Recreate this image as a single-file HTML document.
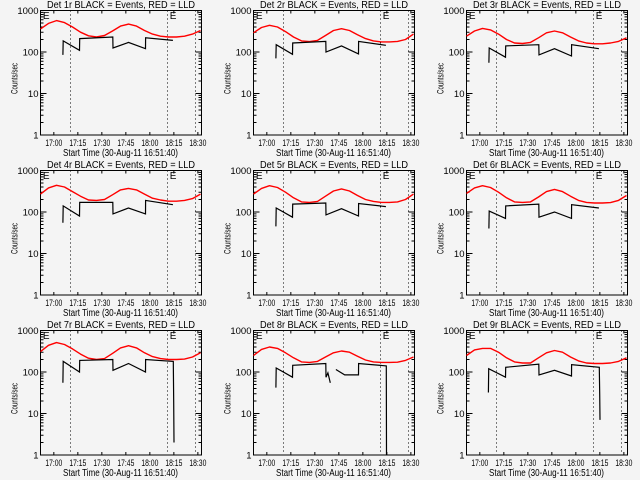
<!DOCTYPE html>
<html><head><meta charset="utf-8"><style>
html,body{margin:0;padding:0;background:#f4f4f4;}
svg{display:block;}
text{font-family:"Liberation Sans",sans-serif;fill:#000;}
</style></head><body>
<svg id="fig" width="640" height="480" viewBox="0 0 640 480" xmlns="http://www.w3.org/2000/svg">
<rect x="0" y="0" width="640" height="480" fill="#f4f4f4"/>
</svg>
<script>
// Shared data
const detNames = ["1r","2r","3r","4r","5r","6r","7r","8r","9r"];
const redTimes = [0,5,10,15,20,25,30,35,40,45,50,55,60,65,70,75,80,85,90,95,100];
const red1 = [360,490,570,510,400,300,245,230,250,320,420,470,420,330,270,240,230,230,240,270,330];
const red2 = [290,390,440,400,310,230,185,178,190,250,330,365,330,260,210,185,175,175,180,200,270];
const red3 = [240,320,370,340,270,200,165,160,170,220,290,320,290,230,185,165,158,158,165,180,220];
const red4 = [270,380,440,400,310,240,195,190,200,260,340,370,340,270,215,195,182,182,190,210,270];
const red5 = [270,370,430,390,300,220,175,170,180,240,320,360,320,250,200,180,170,170,175,200,270];
const red6 = [280,380,430,390,300,220,175,170,175,230,310,350,310,240,190,170,165,165,168,190,250];
const red7 = [310,440,510,460,360,270,215,200,210,280,380,430,380,290,235,210,200,200,205,230,290];
const red8 = [250,350,400,370,290,220,175,170,180,230,290,320,300,240,195,175,170,170,172,190,230];
const red9 = [250,340,370,370,300,220,175,165,165,220,290,330,300,230,185,165,160,160,165,180,220];
const redSeries = [red1,red2,red3,red4,red5,red6,red7,red8,red9];

const blackTimesStd = [14,14.2,24.4,24.5,45.2,45.3,55,65.6,65.7,82.7];
const black1 = [85,185,110,210,230,125,170,120,220,190];
const black2 = [70,150,88,165,180,100,140,90,180,145];
const black3 = [55,125,75,140,150,85,120,80,150,120];
const black4 = [55,140,80,170,170,90,125,90,190,150];
const black5 = [45,125,75,155,165,85,120,80,160,135];
const black6 = [40,105,70,140,155,75,100,70,150,125];
const black7Times = [14,14.2,24.4,24.5,45.2,45.3,55,65.6,65.7,83,83.2,83.4];
const black7 = [55,180,100,190,200,110,160,100,200,180,18,2];
const black8Times = [14,14.2,24.4,24.5,45.2,45.3,46.5,48,48.1,51.5,57,65.6,65.7,83,83.1];
const black8 = [42,125,75,145,160,75,95,55,null,115,85,85,160,140,1];
const black9Times = [13.7,13.9,24.4,24.5,45.2,45.3,55,65.6,65.7,83,83.2,83.4];
const black9 = [32,120,75,130,155,85,110,80,150,130,30,7];
const blackTimes = [blackTimesStd,blackTimesStd,blackTimesStd,blackTimesStd,blackTimesStd,blackTimesStd,black7Times,black8Times,black9Times];
const blackSeries = [black1,black2,black3,black4,black5,black6,black7,black8,black9];

const dottedTimes = [18.3,78.75,96.5];
const eMarkTimes = [1.5,80.8];
const xTickTimes = [8.33,23.33,38.33,53.33,68.33,83.33,98.33];
const xTickLabels = ["17:00","17:15","17:30","17:45","18:00","18:15","18:30"];
const yTickValues = [1,10,100,1000];
const yTickLabels = ["1","10","100","1000"];

const NS = "http://www.w3.org/2000/svg";
const svg = document.getElementById('fig');
const colLeft = [40.5,253.5,466.5];
const rowTop = [10.5,170.5,330.5];
const W = 161, H = 124.5;
const XMAX = 100.6;

function mk(tag, attrs, parent){
  const e = document.createElementNS(NS, tag);
  for (const k in attrs) e.setAttribute(k, attrs[k]);
  parent.appendChild(e);
  return e;
}

for (let p = 0; p < 9; p++) {
  const L = colLeft[p % 3], T = rowTop[Math.floor(p / 3)];
  const xs = t => L + t / XMAX * W;
  const ys = v => T + H - Math.log10(v) / 3 * H;
  const g = mk('g', {}, svg);
  
  

  const title = mk('text', {x: L + W/2, y: T - 2.5, 'font-size': 10.5, 'text-anchor': 'middle', textLength: 148, lengthAdjust: 'spacingAndGlyphs'}, g);
  title.textContent = 'Det ' + detNames[p] + ' BLACK = Events, RED = LLD';
  
  

  const box = mk('rect', {x: L, y: T, width: W, height: H, fill: 'none', stroke: '#000', 'stroke-width': 1}, g);
  
  

  for (let i = 0; i < yTickValues.length; i++) {
    const y = ys(yTickValues[i]);
    const tk = mk('path', {d: `M${L},${y}h6M${L+W},${y}h-6`, stroke: '#000', 'stroke-width': 1}, g);
    
    
    const lb = mk('text', {x: L - 2, y: y + 3.5, 'font-size': 9.5, 'text-anchor': 'end'}, g);
    lb.textContent = yTickLabels[i];
    
    
    if (i < yTickValues.length - 1) {
      for (let m = 2; m <= 9; m++) {
        const ym = ys(yTickValues[i] * m);
        const mt = mk('path', {d: `M${L},${ym}h3M${L+W},${ym}h-3`, stroke: '#000', 'stroke-width': 1}, g);
        
        
      }
    }
  }
  for (let i = 0; i < xTickTimes.length; i++) {
    const x = xs(xTickTimes[i]);
    const tk = mk('path', {d: `M${x},${T+H}v-3M${x},${T}v3`, stroke: '#000', 'stroke-width': 1}, g);
    
    
    const lb = mk('text', {x: x, y: T + H + 11, 'font-size': 9.5, 'text-anchor': 'middle', textLength: 17, lengthAdjust: 'spacingAndGlyphs'}, g);
    lb.textContent = xTickLabels[i];
    
    
  }
  const xl = mk('text', {x: L + W/2 - 0.5, y: T + H + 21, 'font-size': 10, 'text-anchor': 'middle', textLength: 115, lengthAdjust: 'spacingAndGlyphs'}, g);
  xl.textContent = 'Start Time (30-Aug-11 16:51:40)';
  
  
  const yl = mk('text', {x: 0, y: 0, 'font-size': 9.5, 'text-anchor': 'middle', transform: `translate(${L-23},${T+68}) rotate(-90)`, textLength: 31, lengthAdjust: 'spacingAndGlyphs'}, g);
  yl.textContent = 'Counts/sec';
  
  

  for (const t of dottedTimes) {
    const x = Math.round(xs(t)) + 0.5;
    const dl = mk('line', {x1: x, y1: T, x2: x, y2: T + H, stroke: '#000', 'stroke-width': 1, 'stroke-dasharray': '1,3'}, g);
    
    
  }
  for (const t of eMarkTimes) {
    const em = mk('text', {x: xs(t), y: T + 8.5, 'font-size': 10}, g);
    em.textContent = 'E';
    
    
  }

  const rv = redSeries[p];
  let rd = '';
  for (let i = 0; i < redTimes.length; i++) rd += (i ? 'L' : 'M') + xs(redTimes[i]).toFixed(1) + ',' + ys(rv[i]).toFixed(1);
  const rl = mk('path', {d: rd, fill: 'none', stroke: '#ff0000', 'stroke-width': 1.4, 'stroke-linejoin': 'round'}, g);
  
  

  const bt = blackTimes[p], bv = blackSeries[p];
  let bd = '', pen = false;
  for (let i = 0; i < bt.length; i++) {
    if (bv[i] === null) { pen = false; continue; }
    bd += (pen ? 'L' : 'M') + xs(bt[i]).toFixed(1) + ',' + ys(bv[i]).toFixed(1);
    pen = true;
  }
  const bl = mk('path', {d: bd, fill: 'none', stroke: '#000', 'stroke-width': 1.2}, g);
  
  
}
</script>
</body></html>
